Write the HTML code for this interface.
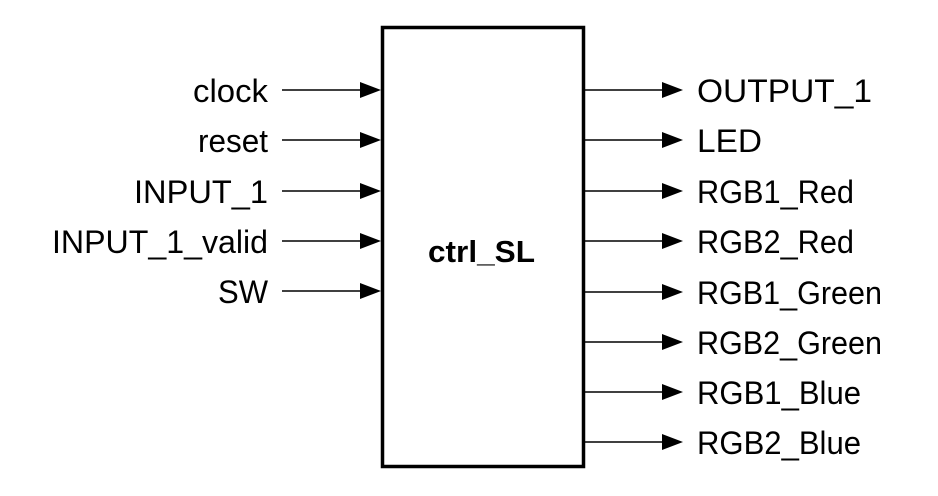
<!DOCTYPE html>
<html><head><style>
html,body{margin:0;padding:0;background:#fff;}
svg{display:block;}
text{font-family:"Liberation Sans",sans-serif;font-size:32px;fill:#000;}
</style></head><body>
<svg width="938" height="496" viewBox="0 0 938 496" xmlns="http://www.w3.org/2000/svg">
<rect x="382.5" y="27.5" width="201" height="439" fill="none" stroke="#000" stroke-width="3.5"/>
<g stroke="#000" stroke-width="1.5">
<line x1="282" y1="90" x2="362" y2="90"/>
<line x1="282" y1="140" x2="362" y2="140"/>
<line x1="282" y1="191" x2="362" y2="191"/>
<line x1="282" y1="241" x2="362" y2="241"/>
<line x1="282" y1="291" x2="362" y2="291"/>
<line x1="585" y1="90" x2="664" y2="90"/>
<line x1="585" y1="140" x2="664" y2="140"/>
<line x1="585" y1="191" x2="664" y2="191"/>
<line x1="585" y1="241" x2="664" y2="241"/>
<line x1="585" y1="292" x2="664" y2="292"/>
<line x1="585" y1="342" x2="664" y2="342"/>
<line x1="585" y1="392" x2="664" y2="392"/>
<line x1="585" y1="442" x2="664" y2="442"/>
</g>
<g fill="#000">
<polygon points="360,82 381,90 360,98"/>
<polygon points="360,132 381,140 360,148"/>
<polygon points="360,183 381,191 360,199"/>
<polygon points="360,233 381,241 360,249"/>
<polygon points="360,283 381,291 360,299"/>
<polygon points="662,82 683,90 662,98"/>
<polygon points="662,132 683,140 662,148"/>
<polygon points="662,183 683,191 662,199"/>
<polygon points="662,233 683,241 662,249"/>
<polygon points="662,284 683,292 662,300"/>
<polygon points="662,334 683,342 662,350"/>
<polygon points="662,384 683,392 662,400"/>
<polygon points="662,434 683,442 662,450"/>
</g>
<g text-anchor="end">
<text x="268" y="102" textLength="75" lengthAdjust="spacingAndGlyphs">clock</text>
<text x="268" y="152" textLength="70" lengthAdjust="spacingAndGlyphs">reset</text>
<text x="268" y="203" textLength="134" lengthAdjust="spacingAndGlyphs">INPUT_1</text>
<text x="268" y="253" textLength="216" lengthAdjust="spacingAndGlyphs">INPUT_1_valid</text>
<text x="268" y="303" textLength="50" lengthAdjust="spacingAndGlyphs">SW</text>
</g>
<g>
<text x="697" y="102" textLength="175" lengthAdjust="spacingAndGlyphs">OUTPUT_1</text>
<text x="697" y="152" textLength="65" lengthAdjust="spacingAndGlyphs">LED</text>
<text x="697" y="203" textLength="157" lengthAdjust="spacingAndGlyphs">RGB1_Red</text>
<text x="697" y="253" textLength="157" lengthAdjust="spacingAndGlyphs">RGB2_Red</text>
<text x="697" y="304" textLength="185" lengthAdjust="spacingAndGlyphs">RGB1_Green</text>
<text x="697" y="354" textLength="185" lengthAdjust="spacingAndGlyphs">RGB2_Green</text>
<text x="697" y="404" textLength="164" lengthAdjust="spacingAndGlyphs">RGB1_Blue</text>
<text x="697" y="454" textLength="164" lengthAdjust="spacingAndGlyphs">RGB2_Blue</text>
</g>
<text x="428" y="262" textLength="107" lengthAdjust="spacingAndGlyphs" style="font-size:31px;font-weight:bold">ctrl_SL</text>
</svg>
</body></html>
